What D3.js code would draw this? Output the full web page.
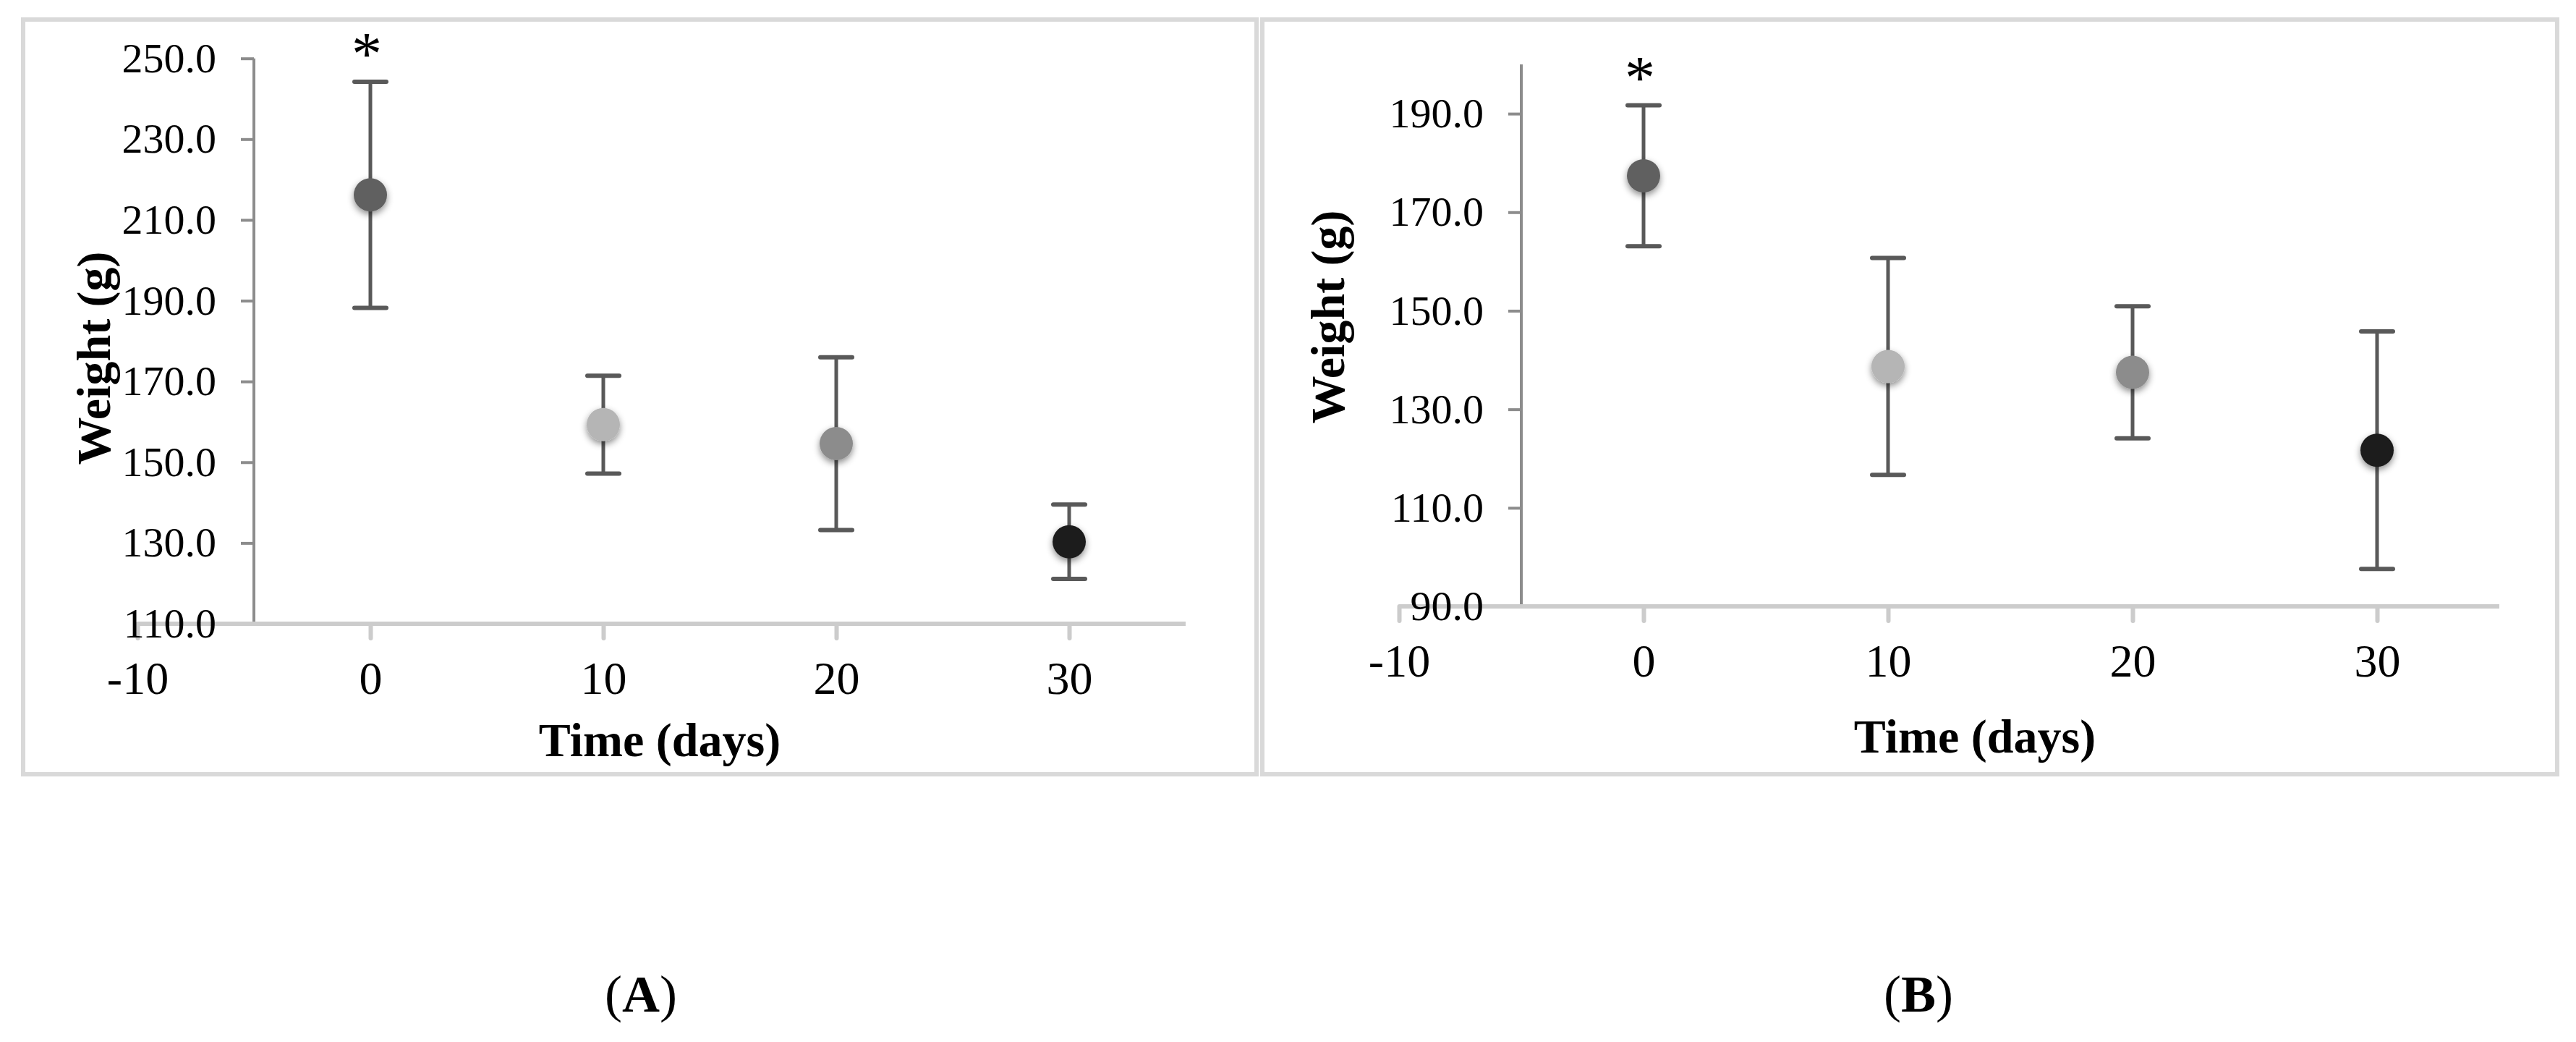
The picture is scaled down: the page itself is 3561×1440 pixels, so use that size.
<!DOCTYPE html>
<html>
<head>
<meta charset="utf-8">
<script src="https://cdn.jsdelivr.net/npm/d3@7"></script>
<style>
  html, body { margin: 0; padding: 0; background: #ffffff; }
  svg { display: block; }
  svg text { font-family: "Liberation Serif", "Times New Roman", serif; }
</style>
</head>
<body>
<svg id="chart" width="3561" height="1440"></svg>
<script>
// chart values
const days = [0, 10, 20, 30];
const xTicks = [-10, 0, 10, 20, 30];

const weightA = [216.2, 159.3, 154.6, 130.3];
const sdA = [28.0, 12.1, 21.4, 9.2];
const yTicksA = [110, 130, 150, 170, 190, 210, 230, 250];

const weightB = [177.4, 138.7, 137.5, 121.7];
const sdB = [14.3, 22.0, 13.4, 24.1];
const yTicksB = [90, 110, 130, 150, 170, 190];

const markerColors = ["#606060", "#b5b5b5", "#8c8c8c", "#1f1f1f"];
const starredDays = [0];

// colours
const frameColor = "#d9d9d9";
const yAxisColor = "#8c8c8c";
const xAxisColor = "#cccccc";
const errorColor = "#595959";
const textColor = "#000000";
const serif = "'Liberation Serif', 'Times New Roman', serif";

const svg = d3.select("#chart");

svg.append("rect").attr("width", 3561).attr("height", 1440).attr("fill", "#ffffff");

// soft shadow under the markers
const defs = svg.append("defs");
const shadow = defs.append("filter")
  .attr("id", "markerShadow")
  .attr("x", "-60%").attr("y", "-60%")
  .attr("width", "220%").attr("height", "220%");
shadow.append("feDropShadow")
  .attr("dx", 0).attr("dy", 4)
  .attr("stdDeviation", 5)
  .attr("flood-color", "#000000")
  .attr("flood-opacity", 0.45);

const drawPanel = (p) => {
  const g = svg.append("g");

  // frame
  g.append("rect")
    .attr("x", p.frame[0]).attr("y", p.frame[1])
    .attr("width", p.frame[2]).attr("height", p.frame[3])
    .attr("fill", "none")
    .attr("stroke", frameColor)
    .attr("stroke-width", 6);

  const x = d3.scaleLinear().domain([-10, 35]).range([p.xLeft, p.xRight]);
  const y = d3.scaleLinear().domain(p.yDomain).range([p.yBottom, p.yTop]);

  // x axis
  const xAxis = g.append("g")
    .attr("transform", `translate(0,${y(p.yDomain[0])})`)
    .call(d3.axisBottom(x).tickValues(xTicks).tickSize(20).tickPadding(32)
      .tickFormat((d) => String(d)))
    .attr("font-family", serif);
  xAxis.select(".domain").remove();
  xAxis.insert("line", ":first-child")
    .attr("x1", x(-10)).attr("x2", x(35))
    .attr("y1", 0).attr("y2", 0)
    .attr("stroke", xAxisColor).attr("stroke-width", 6);
  xAxis.selectAll(".tick line")
    .attr("stroke", xAxisColor).attr("stroke-width", 6)
    .attr("stroke-linecap", "round");
  xAxis.selectAll(".tick text")
    .attr("fill", textColor)
    .attr("dy", "0.71em")
    .style("font-size", "64px");

  // y axis (crosses at x = -5), drawn over the x axis line
  const yAxis = g.append("g")
    .attr("transform", `translate(${x(-5)},0)`)
    .call(d3.axisLeft(y).tickValues(p.yTicks).tickSize(18).tickPadding(34)
      .tickFormat(d3.format(".1f")))
    .attr("font-family", serif);
  yAxis.select(".domain").remove();
  yAxis.append("line")
    .attr("x1", 0).attr("x2", 0)
    .attr("y1", y(p.yDomain[1])).attr("y2", y(p.yDomain[0]) - 3)
    .attr("stroke", yAxisColor).attr("stroke-width", 4);
  yAxis.selectAll(".tick line")
    .attr("stroke", yAxisColor).attr("stroke-width", 4)
    .attr("opacity", (d) => (d === p.yDomain[0] ? 0 : 1));
  yAxis.selectAll(".tick text")
    .attr("fill", textColor)
    .attr("dy", "0.32em")
    .style("font-size", "58px");

  // error bars
  const points = days.map((d, i) => ({ day: d, mean: p.means[i], sd: p.sds[i], color: markerColors[i] }));

  const bars = g.append("g");
  bars.selectAll(".err-line")
    .data(points).enter().append("line")
    .attr("x1", (d) => x(d.day)).attr("x2", (d) => x(d.day))
    .attr("y1", (d) => y(d.mean + d.sd)).attr("y2", (d) => y(d.mean - d.sd))
    .attr("stroke", errorColor).attr("stroke-width", 5);
  [1, -1].forEach((sign) => {
    bars.selectAll(null)
      .data(points).enter().append("line")
      .attr("x1", (d) => x(d.day) - 22).attr("x2", (d) => x(d.day) + 22)
      .attr("y1", (d) => y(d.mean + sign * d.sd)).attr("y2", (d) => y(d.mean + sign * d.sd))
      .attr("stroke", errorColor).attr("stroke-width", 6)
      .attr("stroke-linecap", "round");
  });

  // markers
  g.selectAll(".marker")
    .data(points).enter().append("circle")
    .attr("cx", (d) => x(d.day))
    .attr("cy", (d) => y(d.mean))
    .attr("r", 23)
    .attr("fill", (d) => d.color)
    .attr("filter", "url(#markerShadow)");

  // significance stars
  g.selectAll(".star")
    .data(points.filter((d) => starredDays.includes(d.day))).enter().append("text")
    .attr("x", (d) => x(d.day) - 5)
    .attr("y", (d) => y(d.mean + d.sd) - 10)
    .attr("text-anchor", "middle")
    .attr("fill", textColor)
    .style("font-size", "84px")
    .text("*");

  // axis titles
  g.append("text")
    .attr("x", p.xTitle[0]).attr("y", p.xTitle[1])
    .attr("text-anchor", "middle")
    .attr("fill", textColor)
    .style("font-size", "66px").style("font-weight", "bold")
    .text("Time (days)");

  g.append("text")
    .attr("transform", `translate(${p.yTitle[0]},${p.yTitle[1]}) rotate(-90)`)
    .attr("text-anchor", "middle")
    .attr("fill", textColor)
    .style("font-size", "66px").style("font-weight", "bold")
    .text("Weight (g)");

  // panel letter
  const letter = g.append("text")
    .attr("x", p.letter[0]).attr("y", p.letter[1])
    .attr("text-anchor", "middle")
    .attr("fill", textColor)
    .style("font-size", "72px");
  letter.append("tspan").text("(");
  letter.append("tspan").style("font-weight", "bold").text(p.name);
  letter.append("tspan").text(")");
};

drawPanel({
  name: "A",
  frame: [32, 27, 1705, 1043],
  xLeft: 190, xRight: 1639,
  yDomain: [110, 250], yTop: 80.7, yBottom: 862,
  yTicks: yTicksA,
  means: weightA, sds: sdA,
  xTitle: [912, 1045],
  yTitle: [152, 495],
  letter: [886, 1398]
});

drawPanel({
  name: "B",
  frame: [1745, 27, 1790, 1043],
  xLeft: 1934, xRight: 3455,
  yDomain: [90, 200], yTop: 89, yBottom: 838,
  yTicks: yTicksB,
  means: weightB, sds: sdB,
  xTitle: [2730, 1040],
  yTitle: [1858, 438],
  letter: [2652, 1398]
});
</script>
</body>
</html>
